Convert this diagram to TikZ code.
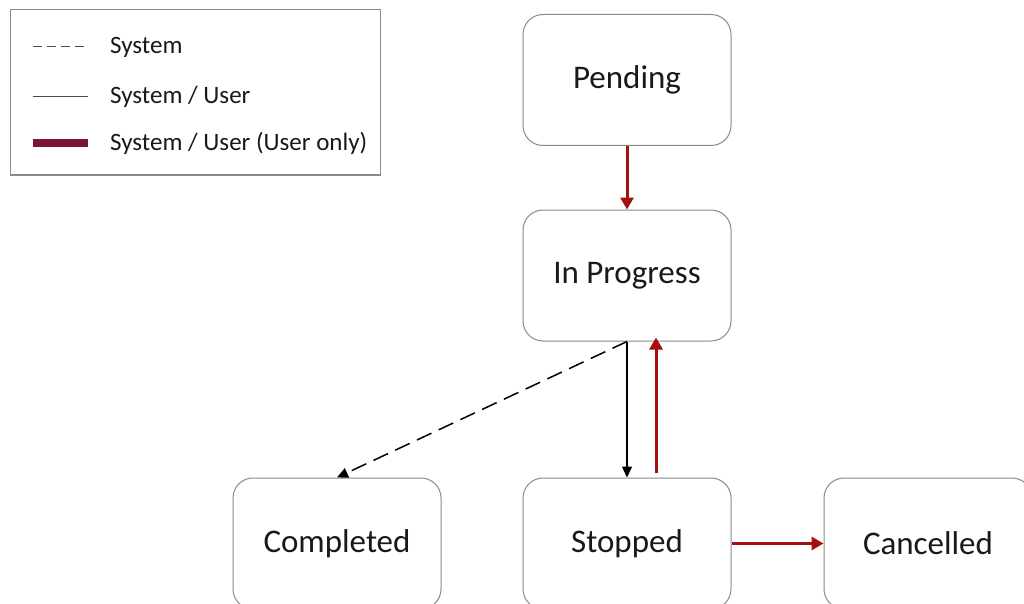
\documentclass[tikz,border=0pt]{standalone}
\usepackage{fontspec}
\setmainfont{Carlito}
\usetikzlibrary{arrows.meta}
\definecolor{boxgray}{HTML}{8A8A8A}
\definecolor{arrred}{HTML}{A50F0F}
\definecolor{maroon}{HTML}{7A1538}
\begin{document}
\begin{tikzpicture}[x=1pt,y=-1pt,
  state/.style={draw=boxgray, line width=1pt, fill=white, rounded corners=20pt,
    minimum width=208pt, minimum height=131pt, inner sep=0pt, font=\fontsize{33}{38}\selectfont, text=black!90},
  redarrow/.style={draw=arrred, line width=3pt, -{Triangle[length=12pt,width=13pt]}},
  blackarrow/.style={draw=black, line width=1.5pt, -{Triangle[length=11pt,width=10pt]}},
  dasharrow/.style={draw=black, line width=1.5pt, dash pattern=on 16pt off 8pt, -{Triangle[length=11pt,width=10pt]}},
  legtext/.style={anchor=west, inner sep=0pt, font=\fontsize{25}{29}\selectfont, text=black!90}]
\useasboundingbox (0,0) rectangle (1024,604);
\clip (0,0) rectangle (1024,604);
\fill[white] (0,0) rectangle (1024,604);
% legend
\node[draw=boxgray, line width=1pt, minimum width=370pt, minimum height=165pt, inner sep=0pt] (legend) at (195,92.5) {};
\coordinate (l1a) at (33,47); \coordinate (l1b) at (88,47);
\coordinate (l2a) at (33,97); \coordinate (l2b) at (88,97);
\coordinate (l3a) at (33,143); \coordinate (l3b) at (88,143);
\draw[black!70, line width=1pt, dash pattern=on 9pt off 5pt] (l1a) -- (l1b);
\draw[black!70, line width=1pt] (l2a) -- (l2b);
\draw[maroon, line width=8pt] (l3a) -- (l3b);
\node[legtext] (t1) at (110,47) {System};
\node[legtext] (t2) at (110,97) {System / User};
\node[legtext] (t3) at (110,143) {System / User (User only)};
% states
\node[state] (pending) at (627,80) {Pending};
\node[state] (inprog) at (627,275.5) {In Progress};
\node[state] (stopped) at (627,543.5) {Stopped};
\node[state] (completed) at (337,543.5) {Completed};
\node[state] (cancelled) at (928,543.5) {Cancelled};
% connectors
\draw[redarrow] (pending.south) -- (inprog.north);
\draw[blackarrow] (inprog.south) -- (stopped.north);
\draw[redarrow] ([xshift=29pt]stopped.north) ++(0,-5) -- ([xshift=29pt,yshift=4pt]inprog.south);
\draw[dasharrow] (inprog.south) -- (completed.north);
\draw[redarrow] (stopped.east) -- (cancelled.west);
\end{tikzpicture}
\end{document}
